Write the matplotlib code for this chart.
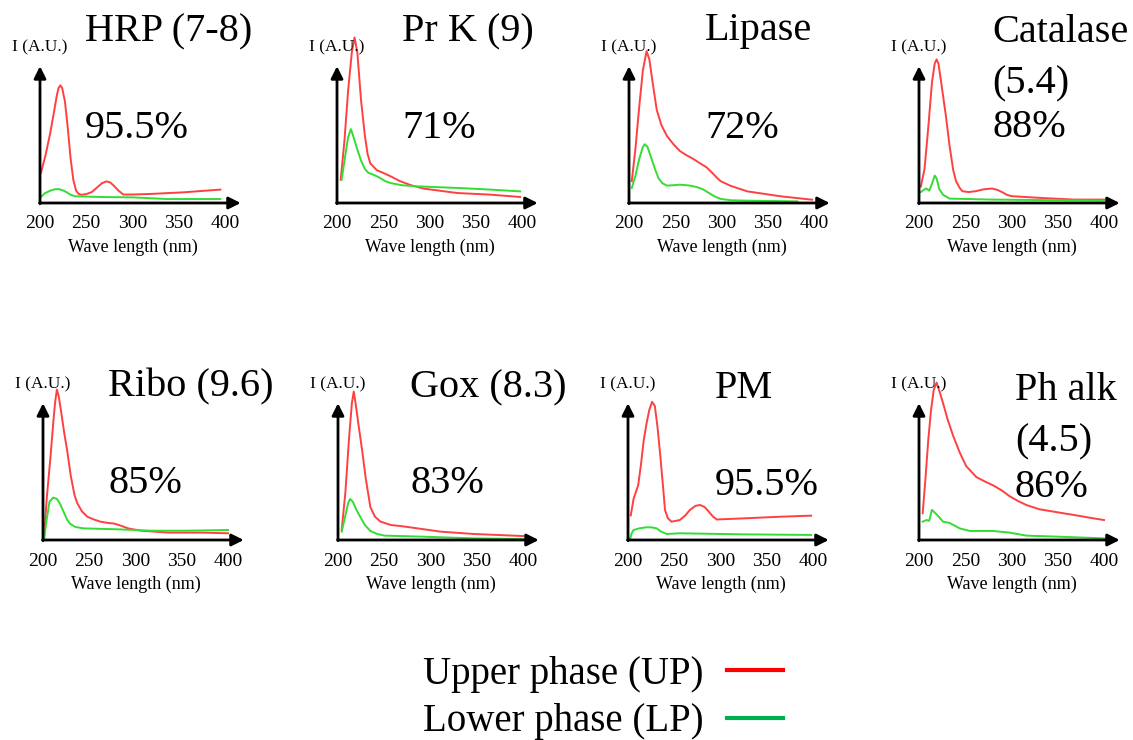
import matplotlib.pyplot as plt
from matplotlib.lines import Line2D

plt.rcParams['font.family'] = ['Liberation Serif', 'DejaVu Serif']

# spectra: wavelength (nm) and intensity (A.U., 1 = top of the y arrow)
hrp_up_nm = [201, 206, 211, 215, 218, 220, 222, 224, 227, 230, 233, 236, 239, 242, 245, 250, 256,
             262, 267, 272, 276, 280, 285, 290, 300, 319, 355, 395]
hrp_up = [0.22, 0.35, 0.51, 0.66, 0.78, 0.84, 0.86, 0.84, 0.74, 0.55, 0.33, 0.17, 0.09, 0.065, 0.06,
          0.065, 0.08, 0.115, 0.145, 0.158, 0.15, 0.125, 0.09, 0.062, 0.062, 0.066, 0.078, 0.098]
hrp_lp_nm = [201, 205, 211, 216, 220, 225, 229, 233, 238, 265, 301, 337, 395]
hrp_lp = [0.044, 0.07, 0.09, 0.1, 0.102, 0.092, 0.078, 0.06, 0.049, 0.044, 0.041, 0.029, 0.029]

prk_up_nm = [204, 208, 212, 216, 219, 222, 226, 230, 233, 236, 243, 250, 258, 268, 280, 294, 330, 366, 398]
prk_up = [0.17, 0.45, 0.82, 1.1, 1.21, 1.1, 0.75, 0.5, 0.36, 0.29, 0.24, 0.22, 0.195, 0.16, 0.13,
          0.105, 0.073, 0.061, 0.044]
prk_lp_nm = [205, 209, 212, 215, 218, 222, 226, 230, 234, 240, 246, 252, 258, 270, 286, 330, 366, 398]
prk_lp = [0.17, 0.35, 0.48, 0.54, 0.48, 0.39, 0.31, 0.25, 0.22, 0.205, 0.185, 0.16, 0.146, 0.13,
          0.122, 0.11, 0.098, 0.085]

lip_up_nm = [203, 207, 211, 215, 219, 222, 226, 230, 235, 241, 248, 255, 262, 270, 278, 284, 290,
             295, 299, 310, 328, 364, 398]
lip_up = [0.16, 0.4, 0.7, 0.97, 1.11, 1.05, 0.86, 0.68, 0.57, 0.49, 0.43, 0.38, 0.35, 0.32, 0.285,
          0.26, 0.22, 0.185, 0.16, 0.125, 0.085, 0.049, 0.024]
lip_lp_nm = [203, 207, 211, 215, 217, 220, 224, 228, 232, 236, 241, 248, 255, 265, 273, 280, 286,
             292, 299, 310, 328, 382]
lip_lp = [0.11, 0.2, 0.32, 0.41, 0.43, 0.41, 0.33, 0.25, 0.18, 0.145, 0.127, 0.13, 0.134, 0.128,
          0.117, 0.1, 0.075, 0.05, 0.03, 0.02, 0.017, 0.012]

cat_up_nm = [202, 206, 210, 214, 217, 219, 221, 224, 229, 233, 237, 240, 244, 247, 254, 261, 270,
             279, 285, 290, 295, 300, 332, 368, 400]
cat_up = [0.12, 0.25, 0.55, 0.88, 1.02, 1.05, 1.02, 0.88, 0.64, 0.42, 0.24, 0.16, 0.11, 0.086, 0.08,
          0.086, 0.1, 0.106, 0.095, 0.079, 0.06, 0.05, 0.037, 0.025, 0.025]
cat_lp_nm = [202, 206, 208, 211, 214, 217, 219, 222, 226, 233, 279, 400]
cat_lp = [0.08, 0.1, 0.106, 0.09, 0.14, 0.2, 0.18, 0.1, 0.06, 0.032, 0.025, 0.017]

rib_up_nm = [201, 204, 208, 211, 213, 215, 217, 220, 223, 226, 230, 234, 237, 242, 248, 255, 262,
             270, 277, 284, 292, 306, 336, 372, 400]
rib_up = [0.0, 0.3, 0.6, 0.85, 1.0, 1.10, 1.05, 0.92, 0.78, 0.66, 0.47, 0.33, 0.27, 0.21, 0.17, 0.15,
          0.134, 0.125, 0.12, 0.105, 0.085, 0.068, 0.054, 0.054, 0.049]
rib_lp_nm = [201, 204, 207, 211, 215, 218, 222, 226, 229, 235, 244, 281, 317, 354, 400]
rib_lp = [0.0, 0.15, 0.28, 0.31, 0.3, 0.27, 0.21, 0.15, 0.12, 0.095, 0.085, 0.078, 0.068, 0.068, 0.073]

gox_up_nm = [204, 208, 212, 215, 217, 219, 222, 226, 230, 235, 240, 246, 257, 270, 286, 311, 347, 400]
gox_up = [0.073, 0.35, 0.75, 1.0, 1.085, 1.0, 0.85, 0.66, 0.45, 0.24, 0.17, 0.134, 0.11, 0.1, 0.085,
          0.061, 0.044, 0.029]
gox_lp_nm = [204, 208, 211, 213, 216, 220, 224, 229, 235, 242, 250, 293, 347, 400]
gox_lp = [0.061, 0.18, 0.27, 0.30, 0.28, 0.22, 0.17, 0.11, 0.066, 0.045, 0.032, 0.024, 0.012, 0.007]

pm_up_nm = [203, 206, 208, 211, 214, 217, 220, 223, 226, 229, 232, 235, 238, 240, 243, 247, 252,
            256, 262, 267, 273, 278, 283, 287, 292, 296, 328, 364, 398]
pm_up = [0.18, 0.3, 0.34, 0.40, 0.55, 0.73, 0.85, 0.95, 1.01, 0.98, 0.82, 0.61, 0.38, 0.22, 0.16,
         0.134, 0.14, 0.146, 0.18, 0.22, 0.25, 0.256, 0.24, 0.21, 0.17, 0.15, 0.159, 0.17, 0.178]
pm_lp_nm = [202, 204, 206, 212, 220, 226, 231, 236, 242, 256, 328, 398]
pm_lp = [0.0, 0.05, 0.073, 0.085, 0.093, 0.092, 0.085, 0.06, 0.044, 0.049, 0.041, 0.037]

pha_up_nm = [204, 207, 210, 213, 216, 219, 222, 226, 231, 237, 244, 251, 262, 272, 280, 290, 298,
             307, 316, 330, 352, 370, 387, 400]
pha_up = [0.195, 0.45, 0.73, 0.95, 1.1, 1.15, 1.09, 1.0, 0.88, 0.76, 0.64, 0.54, 0.46, 0.425, 0.40,
          0.36, 0.32, 0.285, 0.256, 0.225, 0.20, 0.18, 0.16, 0.146]
pha_lp_nm = [204, 208, 211, 214, 220, 226, 233, 244, 255, 280, 298, 316, 352, 400]
pha_lp = [0.134, 0.146, 0.14, 0.22, 0.18, 0.134, 0.125, 0.085, 0.066, 0.066, 0.054, 0.032, 0.024, 0.012]

titles = ['HRP (7-8)', 'Pr K (9)', 'Lipase', 'Catalase\n(5.4)',
          'Ribo (9.6)', 'Gox (8.3)', 'PM', 'Ph alk\n(4.5)']
percents = ['95.5%', '71%', '72%', '88%', '85%', '83%', '95.5%', '86%']
ticks = [200, 250, 300, 350, 400]

panels = [(hrp_up_nm, hrp_up, hrp_lp_nm, hrp_lp), (prk_up_nm, prk_up, prk_lp_nm, prk_lp),
          (lip_up_nm, lip_up, lip_lp_nm, lip_lp), (cat_up_nm, cat_up, cat_lp_nm, cat_lp),
          (rib_up_nm, rib_up, rib_lp_nm, rib_lp), (gox_up_nm, gox_up, gox_lp_nm, gox_lp),
          (pm_up_nm, pm_up, pm_lp_nm, pm_lp), (pha_up_nm, pha_up, pha_lp_nm, pha_lp)]

W, H = 1133, 740
fig = plt.figure(figsize=(W / 100, H / 100), dpi=100)


def fx(x):
    return x / W


def fy(y):
    return 1 - y / H


# pixel position of each origin, left edge of the labels, title / percent baselines
origins = [(40, 203), (337, 203), (629, 203), (919, 203),
           (43, 540), (338, 540), (628, 540), (919, 540)]
text_x = [85, 402, 705, 992, 108, 410, 715, 1015]
title_base = [41, 41, 40, 42, 396, 397, 398, 400]
pct_base = [138, 138, 138, 137, 493, 493, 495, 497]

red = '#ff4040'
green = '#33dd33'

for i, (up_nm, up, lp_nm, lp) in enumerate(panels):
    x0, y0 = origins[i]
    ax = fig.add_axes([fx(x0), fy(y0), 203.5 / W, 171 / H])
    ax.set_xlim(200, 420)
    ax.set_ylim(0, 1.25)
    ax.patch.set_alpha(0)
    for s in ax.spines.values():
        s.set_visible(False)
    ax.plot(up_nm, up, color=red, lw=1.4, clip_on=False, zorder=3)
    ax.plot(lp_nm, lp, color=green, lw=1.4, clip_on=False, zorder=3)
    arrow = dict(arrowstyle='-|>,head_length=0.6,head_width=0.3', color='k', lw=2,
                 shrinkA=0, shrinkB=0, mutation_scale=12)
    ax.annotate('', xy=(417, 0), xytext=(199.5, 0), arrowprops=arrow, annotation_clip=False)
    ax.annotate('', xy=(200, 1.0), xytext=(200, -0.005), arrowprops=arrow, annotation_clip=False)
    ax.set_xticks(ticks)
    ax.set_yticks([])
    ax.tick_params(axis='x', length=0, pad=9, labelsize=14)
    ax.annotate('Wave length (nm)', xy=(300, 0), xycoords=('data', 'axes fraction'),
                xytext=(0, -32), textcoords='offset points', ha='center', va='center', fontsize=13)
    ax.annotate('I (A.U.)', xy=(0, 0), xycoords='axes fraction', xytext=(0, 112),
                textcoords='offset points', ha='center', va='center', fontsize=12.5)

    for k, line in enumerate(titles[i].split('\n')):
        fig.text(fx(text_x[i]), fy(title_base[i] + 51 * k), line, ha='left', va='baseline', fontsize=29)
    fig.text(fx(text_x[i]), fy(pct_base[i]), percents[i], ha='left', va='baseline', fontsize=29)

handles = [Line2D([], [], color='#ff0000', lw=3), Line2D([], [], color='#00b050', lw=3)]
fig.legend(handles, ['Upper phase (UP)', 'Lower phase (LP)'], loc='center',
           bbox_to_anchor=(fx(603), fy(698)), frameon=False, markerfirst=False, fontsize=28,
           handlelength=1.45, handletextpad=0.6, labelspacing=0.28, borderpad=0)

fig.savefig('out.png', dpi=100)
